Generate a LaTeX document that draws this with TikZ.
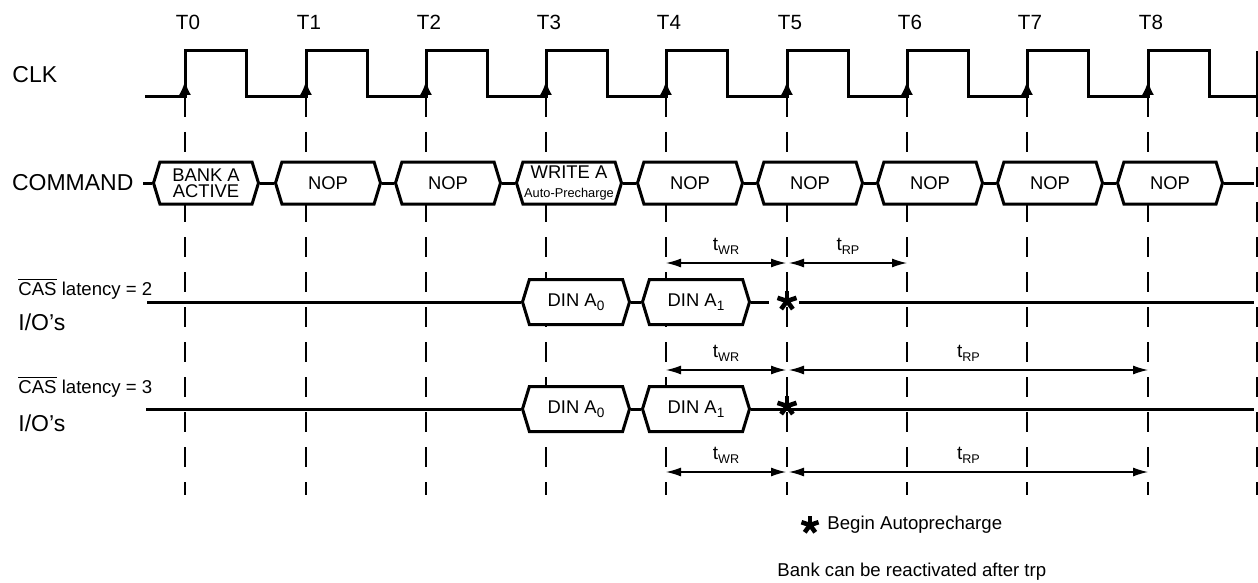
\documentclass[tikz,border=0pt]{standalone}
\usepackage{fontspec}
\setmainfont{Liberation Sans}
\usetikzlibrary{arrows.meta,shapes.symbols}
\newcommand\tsub[1]{t\raisebox{-2pt}{\fontsize{6.3}{6.3}\selectfont #1}}
\newcommand\isub[1]{\raisebox{-2pt}{\fontsize{6.8}{6.8}\selectfont #1}}
\tikzset{
  sig/.style={line width=1.5pt},
  tick/.style={line width=1pt,dash pattern=on 10pt off 7.5pt},
  dim/.style={line width=0.6pt,{Latex[length=7.5pt,width=4.5pt]}-{Latex[length=7.5pt,width=4.5pt]}},
  bus/.style={signal,signal to=east and west,signal pointer angle=146,draw,sig,fill=white,
    minimum width=52.5pt,minimum height=21pt,inner sep=0pt,align=center,font=\fontsize{9.2}{7.8}\selectfont},
  din/.style={bus,minimum width=53.5pt,minimum height=22.5pt},
  lbl/.style={anchor=west,inner sep=0pt,font=\fontsize{11.5}{12}\selectfont},
  small/.style={anchor=west,inner sep=0pt,font=\fontsize{9.3}{9.3}\selectfont},
  tl/.style={midway,anchor=base,yshift=6.5pt,inner sep=0pt,font=\fontsize{9.5}{9.5}\selectfont},
  apstar/.pic={\foreach \a in {-90,-18,54,126,198}\draw[line width=2.3pt] (0,0) -- (\a:10);}
}
\begin{document}
\begin{tikzpicture}[x=0.5pt,y=-0.5pt]
\useasboundingbox (0,0) rectangle (1258,583);
\foreach \e [count=\i from 0] in {185,306,426,546,666,787,907,1027,1148}{
  \node[anchor=base,inner sep=0pt,font=\fontsize{10.3}{10.3}\selectfont] (T\i) at (\e+3,30) {T\i};
  \coordinate (e\i) at (\e,97);
  \coordinate (f\i) at (\e,495);
}
\coordinate (e9) at (1257,97); \coordinate (f9) at (1257,495);
\foreach \i in {0,...,9} \draw[tick] (e\i) -- (f\i);
% clock
\node[lbl] (clk) at (12,75) {CLK};
\draw[sig] (145,97) \foreach \e in {185,306,426,546,666,787,907,1027,1148}{ -- (\e,97) -- (\e,51) -- (\e+61,51) -- (\e+61,97) } -- (1257,97) -- (1257,51);
\foreach \i in {0,...,8} \draw[line width=1pt,-{Latex[length=7pt,width=6pt]}] (e\i) -- ++(0,-16);
% command
\node[lbl,outer sep=5pt] (cmd) at (2,183) {COMMAND};
\node[bus] (c0) at (206,183) {BANK A\\ACTIVE};
\node[bus] (c1) at (328,183) {NOP};
\node[bus] (c2) at (448,183) {NOP};
\node[bus] (c3) at (569,183) {WRITE A\\[1.5pt]{\fontsize{6.4}{6.4}\selectfont Auto-Precharge}};
\node[bus] (c4) at (690,183) {NOP};
\node[bus] (c5) at (810,183) {NOP};
\node[bus] (c6) at (930,183) {NOP};
\node[bus] (c7) at (1050,183) {NOP};
\node[bus] (c8) at (1170,183) {NOP};
\coordinate (cend) at (1254,183);
\draw[sig] (cmd.east) -- (c0.west);
\foreach \i/\j in {0/1,1/2,2/3,3/4,4/5,5/6,6/7,7/8} \draw[sig] (c\i.east) -- (c\j.west);
\draw[sig] (c8.east) -- (cend);
% CAS latency = 2
\node[small] (cas2) at (18,289) {$\overline{\mbox{CAS}}$ latency = 2};
\node[lbl] (io2) at (18,322) {I/O’s};
\coordinate (r1s) at (147,302); \coordinate (s1w) at (769,302);
\coordinate (s1e) at (799,302); \coordinate (r1e) at (1254,302);
\node[din] (d10) at (576,302) {DIN A\isub{0}};
\node[din] (d11) at (696,302) {DIN A\isub{1}};
\draw[sig] (r1s) -- (d10.west) (d10.east) -- (d11.west) (d11.east) -- (s1w) (s1e) -- (r1e);
\pic (st1) at (787,301) {apstar};
\coordinate (w1a) at (666,263); \coordinate (w1b) at (786,263);
\coordinate (p1a) at (789,263); \coordinate (p1b) at (907,263);
\draw[dim] (w1a) -- node[tl] (tw1) {\tsub{WR}} (w1b);
\draw[dim] (p1a) -- node[tl] (tp1) {\tsub{RP}} (p1b);
% CAS latency = 3
\node[small] (cas3) at (18,387) {$\overline{\mbox{CAS}}$ latency = 3};
\node[lbl] (io3) at (18,423) {I/O’s};
\coordinate (r2s) at (146,409); \coordinate (r2e) at (1254,409);
\node[din] (d20) at (576,409) {DIN A\isub{0}};
\node[din] (d21) at (696,409) {DIN A\isub{1}};
\draw[sig] (r2s) -- (d20.west) (d20.east) -- (d21.west) (d21.east) -- (r2e);
\pic (st2) at (787,406) {apstar};
\coordinate (w2a) at (666,370); \coordinate (w2b) at (786,370);
\coordinate (p2a) at (789,370); \coordinate (p2b) at (1148,370);
\draw[dim] (w2a) -- node[tl] (tw2) {\tsub{WR}} (w2b);
\draw[dim] (p2a) -- node[tl] (tp2) {\tsub{RP}} (p2b);
\coordinate (w3a) at (666,472); \coordinate (w3b) at (786,472);
\coordinate (p3a) at (789,472); \coordinate (p3b) at (1148,472);
\draw[dim] (w3a) -- node[tl] (tw3) {\tsub{WR}} (w3b);
\draw[dim] (p3a) -- node[tl] (tp3) {\tsub{RP}} (p3b);
% notes
\pic[scale=0.9] (st3) at (810,525) {apstar};
\node[small] (bap) at (827,525) {Begin Autoprecharge};
\node[small] (brt) at (777,572) {Bank can be reactivated after trp};
\end{tikzpicture}
\end{document}
